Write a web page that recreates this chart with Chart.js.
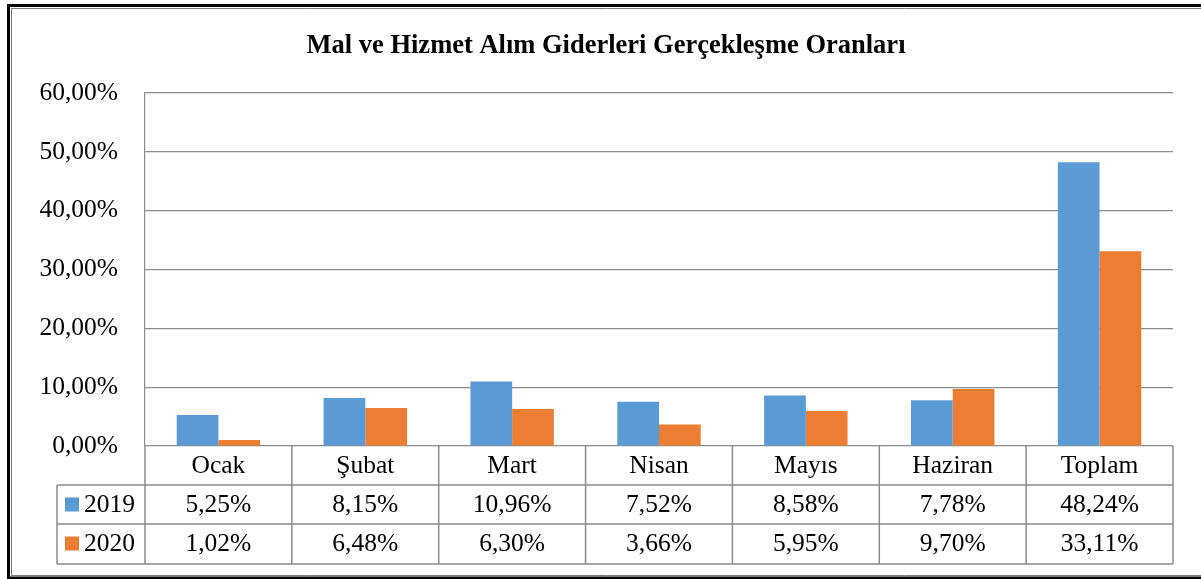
<!DOCTYPE html>
<html>
<head>
<meta charset="utf-8">
<script src="https://cdn.jsdelivr.net/npm/chart.js@4"></script>
<style>
html,body{margin:0;padding:0;background:#fff;}
#wrap{width:1201px;height:579px;position:relative;}
</style>
</head>
<body>
<div id="wrap"><canvas id="c" width="1201" height="579"></canvas></div>
<script>
const titleText = "Mal ve Hizmet Alım Giderleri Gerçekleşme Oranları";
const categories = ["Ocak", "Şubat", "Mart", "Nisan", "Mayıs", "Haziran", "Toplam"];
const seriesNames = ["2019", "2020"];
const values2019 = [5.25, 8.15, 10.96, 7.52, 8.58, 7.78, 48.24];
const values2020 = [1.02, 6.48, 6.30, 3.66, 5.95, 9.70, 33.11];
const yTickValues = [0, 10, 20, 30, 40, 50, 60];
const colors = ["#5B9BD5", "#ED7D31"];

const FONT = '"Liberation Serif", "Times New Roman", serif';
const fmt = v => v.toFixed(2).replace('.', ',') + '%';

const framePlugin = {
  id: 'frameAndTable',
  afterDraw(chart) {
    const ctx = chart.ctx;
    const ca = chart.chartArea;
    const xs = chart.scales.x;
    const n = categories.length;
    const colW = (ca.right - ca.left) / n;
    const rowH = 39;
    const top0 = ca.bottom;
    const legendLeft = ca.left - 88;
    ctx.save();
    // title
    ctx.fillStyle = '#000';
    ctx.font = 'bold 26.5px ' + FONT;
    ctx.textAlign = 'center';
    ctx.textBaseline = 'middle';
    ctx.fillText(titleText, 606, 46);

    // table lines
    ctx.strokeStyle = '#8c8c8c';
    ctx.lineWidth = 1.5;
    ctx.beginPath();
    ctx.moveTo(ca.left, top0 + rowH); ctx.lineTo(ca.right, top0 + rowH);
    ctx.moveTo(legendLeft, top0 + rowH); ctx.lineTo(ca.left, top0 + rowH);
    ctx.moveTo(legendLeft, top0 + 2 * rowH); ctx.lineTo(ca.right, top0 + 2 * rowH);
    ctx.moveTo(legendLeft, top0 + 3 * rowH + 1); ctx.lineTo(ca.right, top0 + 3 * rowH + 1);
    for (let i = 0; i <= n; i++) {
      const x = ca.left + i * colW;
      ctx.moveTo(x, top0); ctx.lineTo(x, top0 + 3 * rowH + 1);
    }
    ctx.moveTo(legendLeft, top0 + rowH); ctx.lineTo(legendLeft, top0 + 3 * rowH + 1);
    ctx.stroke();

    // texts
    ctx.font = '25.5px ' + FONT;
    ctx.fillStyle = '#000';
    ctx.textAlign = 'center';
    ctx.textBaseline = 'middle';
    const series = [values2019, values2020];
    for (let i = 0; i < n; i++) {
      const x = xs.getPixelForValue(i);
      ctx.fillText(categories[i], x, top0 + rowH / 2 + 1);
      for (let s = 0; s < series.length; s++) {
        ctx.fillText(fmt(series[s][i]), x, top0 + rowH * (s + 1) + rowH / 2 + 1);
      }
    }
    // legend keys
    for (let s = 0; s < seriesNames.length; s++) {
      const cy = top0 + rowH * (s + 1) + rowH / 2;
      ctx.fillStyle = colors[s];
      ctx.fillRect(legendLeft + 8, cy - 7, 14, 14);
      ctx.fillStyle = '#000';
      ctx.textAlign = 'left';
      ctx.fillText(seriesNames[s], legendLeft + 27, cy + 1);
    }

    // outer frame
    ctx.strokeStyle = '#000';
    ctx.lineWidth = 3;
    ctx.beginPath();
    ctx.moveTo(1205, 5.5); ctx.lineTo(8.5, 5.5); ctx.lineTo(8.5, 578); ctx.lineTo(1205, 578);
    ctx.stroke();
    ctx.strokeStyle = '#777';
    ctx.lineWidth = 1;
    ctx.beginPath();
    ctx.moveTo(1205, 8.5); ctx.lineTo(11.5, 8.5); ctx.lineTo(11.5, 575.5); ctx.lineTo(1205, 575.5);
    ctx.stroke();
    ctx.restore();
  }
};

new Chart(document.getElementById('c'), {
  type: 'bar',
  data: {
    labels: categories,
    datasets: [
      { label: seriesNames[0], data: values2019, backgroundColor: colors[0], borderWidth: 0 },
      { label: seriesNames[1], data: values2020, backgroundColor: colors[1], borderWidth: 0 }
    ]
  },
  options: {
    responsive: false,
    animation: false,
    devicePixelRatio: 1,
    layout: { padding: { left: 0, right: 28, top: 93, bottom: 133 } },
    plugins: { legend: { display: false }, title: { display: false }, tooltip: { enabled: false } },
    datasets: { bar: { categoryPercentage: 0.568, barPercentage: 1.0 } },
    scales: {
      x: { display: false },
      y: {
        min: 0, max: 60,
        afterBuildTicks(scale) { scale.ticks = yTickValues.map(v => ({ value: v })); },
        afterFit(scale) { scale.width = 145; },
        ticks: {
          padding: 27,
          color: '#000',
          font: { family: FONT, size: 25.5 },
          callback: v => fmt(v)
        },
        grid: { color: '#8c8c8c', lineWidth: 1.2, drawTicks: false },
        border: { display: true, color: '#8c8c8c', width: 1.2 }
      }
    }
  },
  plugins: [framePlugin]
});
</script>
</body>
</html>
